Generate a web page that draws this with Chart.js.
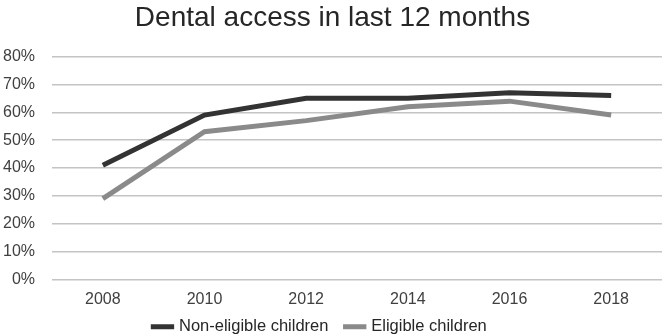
<!DOCTYPE html>
<html>
<head>
<meta charset="utf-8">
<script src="https://cdn.jsdelivr.net/npm/chart.js@4"></script>
<style>
  html, body { margin: 0; padding: 0; background: #fff; }
  #wrap { width: 664px; height: 336px; }
</style>
</head>
<body>
<div id="wrap"><canvas id="dental-chart"></canvas></div>
<script>
// data
var years = ["2008", "2010", "2012", "2014", "2016", "2018"];
var nonEligible = [41, 59, 65, 65, 67, 66];
var eligible = [29, 53, 57, 62, 64, 59];

Chart.defaults.font.family = "'Liberation Sans', Arial, sans-serif";
Chart.defaults.color = "#404040";

var ctx = document.getElementById("dental-chart");

// legend: wide gap between items but not much height under the axis
var legendTighten = {
    id: "legendTighten",
    beforeInit: function (chart) {
        var fit = chart.legend.fit;
        chart.legend.fit = function () {
            fit.bind(chart.legend)();
            this.height -= 21;
        };
    },
    afterLayout: function (chart) {
        var lg = chart.legend;
        lg.top -= 12;
        lg.bottom = chart.height;
        lg.height = lg.bottom - lg.top;
        // ref legend sits a little left of centre
        lg.left -= 12;
        lg.right -= 12;
    }
};

var chart = new Chart(ctx, {
    type: "line",
    data: {
        labels: years,
        datasets: [
            {
                label: "Non-eligible children",
                data: nonEligible,
                borderColor: "#333333",
                backgroundColor: "#333333",
                borderWidth: 5,
                pointRadius: 0,
                tension: 0
            },
            {
                label: "Eligible children",
                data: eligible,
                borderColor: "#8a8a8a",
                backgroundColor: "#8a8a8a",
                borderWidth: 5,
                pointRadius: 0,
                tension: 0
            }
        ]
    },
    options: {
        responsive: true,
        maintainAspectRatio: false,
        animation: false,
        layout: { padding: { left: 3, right: 2, top: 0, bottom: 0 } },
        plugins: {
            title: {
                display: true,
                text: "Dental access in last 12 months",
                font: { size: 28, weight: "normal" },
                color: "#262626",
                padding: { top: 1, bottom: 22 }
            },
            legend: {
                display: true,
                position: "bottom",
                labels: {
                    usePointStyle: true,
                    pointStyle: "line",
                    boxWidth: 36,
                    font: { size: 16.5 },
                    color: "#262626",
                    padding: 18
                }
            },
            tooltip: { enabled: false }
        },
        scales: {
            x: {
                offset: true,
                grid: { display: false },
                border: { display: false },
                ticks: { font: { size: 16 }, color: "#404040", padding: 3 }
            },
            y: {
                min: 0,
                max: 80,
                afterFit: function (scale) { scale.width = 49; },
                grid: { color: "#c4c4c4", lineWidth: 1.5, drawTicks: false },
                border: { display: false },
                ticks: {
                    stepSize: 10,
                    font: { size: 16 },
                    color: "#404040",
                    padding: 17,
                    callback: function (v) { return v + "%"; }
                }
            }
        }
    },
    plugins: [legendTighten]
});
</script>
</body>
</html>
